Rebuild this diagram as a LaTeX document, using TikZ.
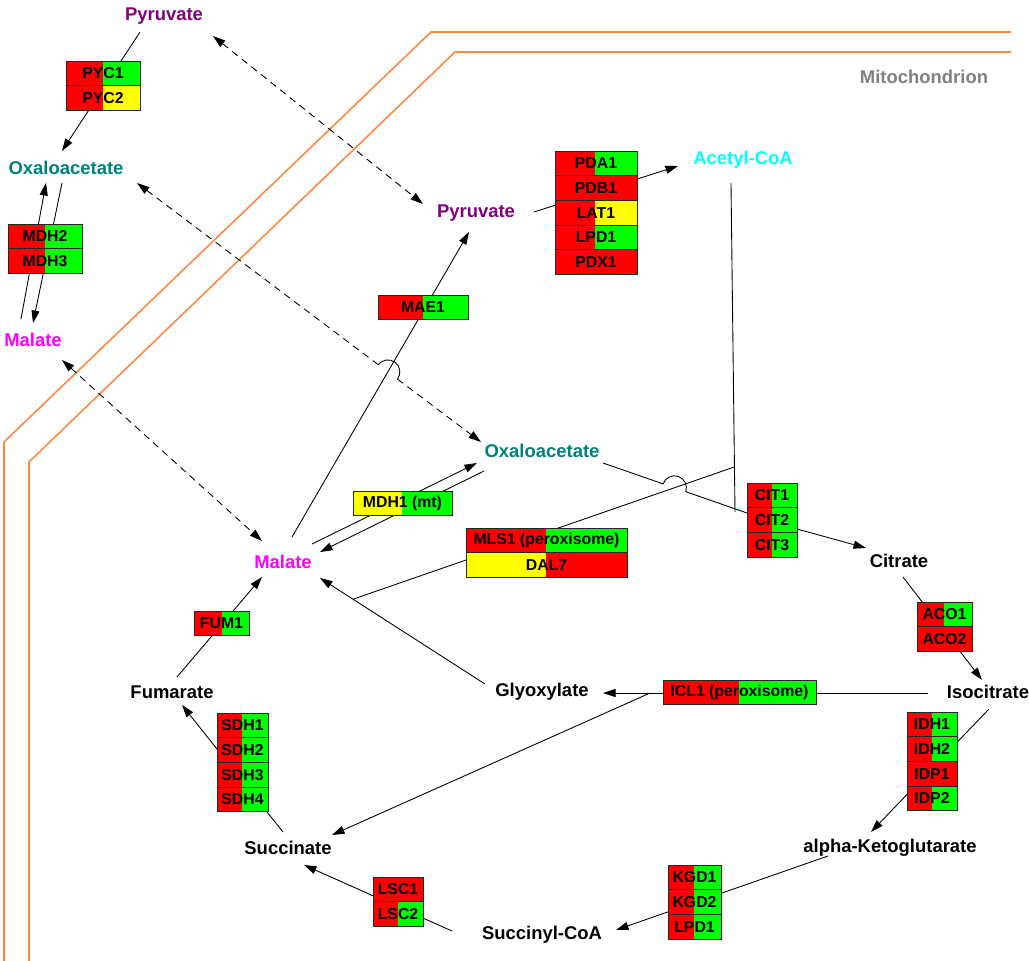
\documentclass[tikz,border=0pt]{standalone}
\usepackage{fontspec}
\setmainfont{Liberation Sans}
\usetikzlibrary{arrows.meta,calc}
\pgfdeclarelayer{bg}
\pgfsetlayers{bg,main}
\definecolor{pyrcol}{RGB}{128,0,128}
\definecolor{oaacol}{RGB}{0,128,128}
\definecolor{malcol}{RGB}{255,0,255}
\definecolor{accol}{RGB}{0,255,255}
\definecolor{membcol}{RGB}{255,136,64}
\definecolor{hired}{RGB}{255,0,0}
\definecolor{higreen}{RGB}{0,255,0}
\definecolor{hiyellow}{RGB}{255,255,0}
\newcommand{\genebox}[6]{%
  \foreach \gname/\lcol/\rcol [count=\r from 0] in {#6} {
    \fill[\lcol] (#2,#3+\r*24.7) rectangle (#5,#3+\r*24.7+24.7);
    \fill[\rcol] (#5,#3+\r*24.7) rectangle (#2+#4,#3+\r*24.7+24.7);
    \draw[boxline] (#2,#3+\r*24.7) rectangle (#2+#4,#3+\r*24.7+24.7);
    \node[gene] at (#2+#4/2,#3+\r*24.7+12.35) {\gname};
  }
  \coordinate (#1) at (#2,#3);
}
\begin{document}
\begin{tikzpicture}[x=0.02cm,y=-0.02cm,>={Triangle[length=0.25cm,width=0.16cm]},
  met/.style={font=\fontsize{10.5}{12}\selectfont\bfseries},
  gene/.style={font=\fontsize{9}{10}\selectfont\bfseries,inner sep=0pt},
  link/.style={line width=0.5pt},
  transport/.style={line width=0.5pt,dash pattern=on 4pt off 3pt},
  membrane/.style={draw=membcol,line width=0.9pt},
  boxline/.style={line width=0.5pt,draw=black!85}]
  \useasboundingbox (0,0) rectangle (1029,961);

  \node[met,pyrcol] (pyrC) at (164,16) {Pyruvate};
  \node[met,oaacol] (oaaC) at (66,168) {Oxaloacetate};
  \node[met,malcol] (malC) at (33,340) {Malate};
  \node[met,pyrcol] (pyrM) at (476,213) {Pyruvate};
  \node[met,accol] (accoa) at (743,160) {Acetyl-CoA};
  \node[met,oaacol] (oaaM) at (542,451) {Oxaloacetate};
  \node[met,malcol] (malM) at (283,562) {Malate};
  \node[met] (cit) at (899,561) {Citrate};
  \node[met] (icit) at (988,692) {Isocitrate};
  \node[met] (glx) at (542,692) {Glyoxylate};
  \node[met] (fum) at (172,692) {Fumarate};
  \node[met] (suc) at (288,848) {Succinate};
  \node[met] (akg) at (890,848) {alpha-Ketoglutarate};
  \node[met] (sucoa) at (542,935) {Succinyl-CoA};
  \node[met,black!50] (mito) at (924,77) {Mitochondrion};

  \genebox{pycbox}{66}{61}{74}{103}{PYC1/hired/higreen,PYC2/hired/hiyellow}
  \genebox{mdhbox}{8}{224}{74}{45}{MDH2/hired/higreen,MDH3/hired/higreen}
  \genebox{maebox}{378}{295}{90}{423}{MAE1/hired/higreen}
  \genebox{pdhbox}{555}{151}{82}{595}{PDA1/hired/higreen,PDB1/hired/hired,LAT1/hired/hiyellow,LPD1/hired/higreen,PDX1/hired/hired}
  \genebox{mdh1box}{353}{491}{99}{402}{MDH1 (mt)/hiyellow/higreen}
  \genebox{mlsbox}{466}{528}{161}{546}{MLS1 (peroxisome)/hired/higreen,DAL7/hiyellow/hired}
  \genebox{citbox}{747}{483}{50}{772}{CIT1/hired/higreen,CIT2/hired/higreen,CIT3/hired/higreen}
  \genebox{acobox}{917}{602}{55}{944}{ACO1/hired/higreen,ACO2/hired/hired}
  \genebox{fumbox}{194}{611}{55}{222}{FUM1/hired/higreen}
  \genebox{sdhbox}{217}{713}{51}{242}{SDH1/hired/higreen,SDH2/hired/higreen,SDH3/hired/higreen,SDH4/hired/higreen}
  \genebox{iclbox}{663}{680}{153}{739}{ICL1 (peroxisome)/hired/higreen}
  \genebox{idhbox}{907}{712}{50}{932}{IDH1/hired/higreen,IDH2/hired/higreen,IDP1/hired/hired,IDP2/hired/higreen}
  \genebox{lscbox}{373}{877}{50}{398}{LSC1/hired/hired,LSC2/hired/higreen}
  \genebox{kgdbox}{668}{865}{53}{694}{KGD1/hired/higreen,KGD2/hired/higreen,LPD1/hired/higreen}

  \begin{pgfonlayer}{bg}
  \draw[membrane] (4,961) -- (4,442) -- (431,32) -- (1011,32);
  \draw[membrane] (29,961) -- (29,462) -- (455,52) -- (1011,52);

  \draw[link,->] ($(pyrC)+(-24,16)$) -- ($(oaaC)+(-4,-17)$);
  \draw[link,->] ($(malC)+(-12,-21)$) -- ($(oaaC)+(-20,15)$);
  \draw[link,->] ($(oaaC)+(-4,15)$) -- ($(malC)+(0,-17)$);

  \draw[transport,<->] ($(pyrC)+(49,20)$) -- ($(pyrM)+(-53,-9)$);
  \draw[transport,<->] ($(malC)+(29,20)$) -- ($(malM)+(-21,-21)$);

  \coordinate (oaaCout) at ($(oaaC)+(71,15)$);
  \coordinate (oaaMin) at ($(oaaM)+(-61,-9)$);
  \coordinate (maeS) at ($(malM)+(9,-25)$);
  \coordinate (maeE) at ($(pyrM)+(-7,19)$);
  \coordinate (hopA) at (intersection of oaaCout--oaaMin and maeS--maeE);
  \coordinate (hopA1) at ($(hopA)!0.24cm!(oaaCout)$);
  \coordinate (hopA2) at ($(hopA)!0.24cm!(oaaMin)$);
  \draw[transport,<-] (oaaCout) -- (hopA1);
  \draw[link] (hopA1) arc[start angle=143,end angle=-37,radius=0.24cm];
  \draw[transport,->] (hopA2) -- (oaaMin);
  \draw[link,->] (maeS) -- (maeE);

  \draw[link,->] ($(pyrM)+(58,-1)$) -- ($(accoa)+(-65,6)$);

  \draw[link,->] ($(malM)+(29,-18)$) -- ($(oaaM)+(-65,12)$);
  \draw[link,->] ($(oaaM)+(-58,20)$) -- ($(malM)+(37,-10)$);

  \coordinate (ac1) at ($(accoa)+(-12,23)$);
  \coordinate (ac2) at ($(citbox)+(-12,29)$);
  \coordinate (mlsjoin) at ($(ac1)!0.863!(ac2)$);
  \coordinate (gx1) at ($(glx)+(-57,-8)$);
  \coordinate (gx2) at ($(malM)+(37,16)$);
  \coordinate (mlsend) at ($(gx1)!0.8!(gx2)$);
  \coordinate (oaaMout) at ($(oaaM)+(61,12)$);
  \coordinate (citin) at ($(citbox)+(0,30)$);
  \coordinate (hopB) at (intersection of oaaMout--citin and mlsjoin--mlsend);
  \coordinate (hopB1) at ($(hopB)!0.24cm!(oaaMout)$);
  \draw[link] (oaaMout) -- (hopB1) arc[start angle=161,end angle=-19,radius=0.24cm] -- (citin);
  \draw[link] (ac1) -- (ac2);
  \draw[link] (mlsjoin) -- (mlsend);
  \draw[link,->] (gx1) -- (gx2);
  \draw[link,->] ($(citbox)+(50,46)$) -- ($(cit)+(-33,-13)$);

  \draw[link,->] ($(cit)+(4,16)$) -- ($(icit)+(-6,-12)$);

  \coordinate (icl1) at ($(icit)+(-60,1)$);
  \coordinate (icl2) at ($(glx)+(61,1)$);
  \draw[link,->] (icl1) -- (icl2);
  \draw[link,->] ($(icl1)!0.855!(icl2)$) -- ($(suc)+(44,-13)$);

  \draw[link,->] ($(icit)+(1,17)$) -- ($(akg)+(-19,-16)$);
  \draw[link,->] ($(akg)+(-62,8)$) -- ($(sucoa)+(74,-5)$);
  \draw[link,->] ($(sucoa)+(-90,-4)$) -- ($(suc)+(16,17)$);
  \draw[link,->] ($(suc)+(-5,-16)$) -- ($(fum)+(10,13)$);
  \draw[link,->] ($(fum)+(5,-15)$) -- ($(malM)+(-21,15)$);
  \end{pgfonlayer}
\end{tikzpicture}
\end{document}
